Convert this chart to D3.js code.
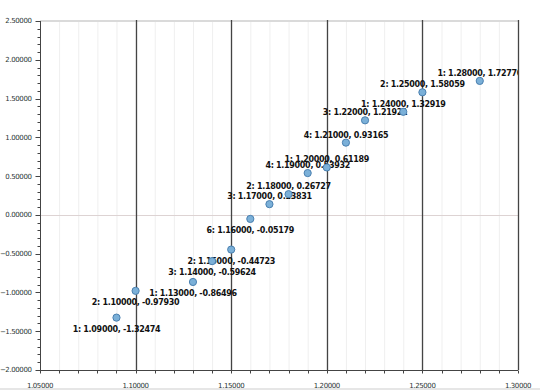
<!DOCTYPE html>
<html><head><meta charset="utf-8">
<script src="https://cdn.jsdelivr.net/npm/d3@7"></script>
<style>html,body{margin:0;padding:0;background:#fff;}svg{display:block;}</style>
</head><body>
<script>
const xValues = [1.09,1.10,1.13,1.14,1.15,1.16,1.17,1.18,1.19,1.20,1.21,1.22,1.24,1.25,1.28];
const yValues = [-1.32474,-0.97930,-0.86496,-0.59624,-0.44723,-0.05179,0.13831,0.26727,0.53932,0.61189,0.93165,1.21921,1.32919,1.58059,1.72770];
const counts  = [1,2,1,3,2,6,3,2,4,1,4,3,1,2,1];
const xTicks = [1.05,1.10,1.15,1.20,1.25,1.30];
const yTicks = [-2.0,-1.5,-1.0,-0.5,0.0,0.5,1.0,1.5,2.0,2.5];

const W=540,H=390;
const L=40,R=518,T=21,B=370;
const x=d3.scaleLinear().domain([1.05,1.30]).range([L,R]);
const y=d3.scaleLinear().domain([-2.0,2.5]).range([B,T]);
const svg=d3.select("body").append("svg").attr("width",W).attr("height",H);

svg.append("rect").attr("x",0).attr("y",388).attr("width",W).attr("height",2).attr("fill","#e6e6e6");

// minor vertical gridlines
const minorX=d3.range(1.05,1.3001,0.01).map(v=>+v.toFixed(2));
svg.append("g").selectAll("line").data(minorX).join("line")
  .attr("x1",d=>x(d)+0.5).attr("x2",d=>x(d)+0.5).attr("y1",T).attr("y2",B)
  .attr("stroke","#efefef").attr("stroke-width",1);

// top border
svg.append("line").attr("x1",L).attr("x2",R).attr("y1",T).attr("y2",T)
  .attr("stroke","#dadada").attr("stroke-width",2);

// zero line
svg.append("line").attr("x1",L).attr("x2",R).attr("y1",Math.round(y(0))+0.5).attr("y2",Math.round(y(0))+0.5)
  .attr("stroke","#ddd3d3").attr("stroke-width",1);

// major vertical lines
svg.append("g").selectAll("line").data(xTicks.slice(1)).join("line")
  .attr("x1",d=>Math.round(x(d))+0.5).attr("x2",d=>Math.round(x(d))+0.5).attr("y1",T-1).attr("y2",B)
  .attr("stroke","#444").attr("stroke-width",1.3);

// axes
const yMinor=d3.range(-2.0,2.5001,0.1).map(v=>+v.toFixed(1));
const ax=svg.append("g").attr("transform",`translate(${L+0.5},0)`);
ax.append("line").attr("y1",T).attr("y2",B).attr("stroke","#444");
ax.selectAll("line.mn").data(yMinor).join("line").attr("class","mn")
  .attr("x1",-3).attr("x2",0).attr("y1",d=>Math.round(y(d))+0.5).attr("y2",d=>Math.round(y(d))+0.5).attr("stroke","#444");
ax.selectAll("line.mj").data(yTicks).join("line").attr("class","mj")
  .attr("x1",-5).attr("x2",0).attr("y1",d=>Math.round(y(d))+0.5).attr("y2",d=>Math.round(y(d))+0.5).attr("stroke","#444");
ax.selectAll("text").data(yTicks).join("text")
  .attr("x",-9).attr("y",d=>y(d)).attr("dy","0.35em").attr("text-anchor","end")
  .attr("font-family","DejaVu Sans").attr("font-size",7).attr("letter-spacing",-0.4).attr("fill","#2a3535")
  .text(d=>d3.format(".5f")(d));

const bx=svg.append("g").attr("transform",`translate(0,${B+0.5})`);
bx.append("line").attr("x1",L).attr("x2",R).attr("stroke","#444");
bx.selectAll("line.mn").data(minorX).join("line").attr("class","mn")
  .attr("x1",d=>Math.round(x(d))+0.5).attr("x2",d=>Math.round(x(d))+0.5).attr("y1",0).attr("y2",3).attr("stroke","#444");
bx.selectAll("text").data(xTicks).join("text")
  .attr("x",d=>x(d)).attr("y",17).attr("text-anchor","middle")
  .attr("font-family","DejaVu Sans").attr("font-size",7).attr("letter-spacing",-0.4).attr("fill","#2a3535")
  .text(d=>d3.format(".5f")(d));

// data
const data=xValues.map((v,i)=>({x:v,y:yValues[i],c:counts[i]}));
svg.append("clipPath").attr("id","clip").append("rect").attr("x",L).attr("y",T).attr("width",R-L).attr("height",B-T);
svg.append("g").attr("clip-path","url(#clip)").selectAll("text").data(data).join("text")
  .attr("x",d=>x(d.x)).attr("y",d=>d.y<0?y(d.y)+14:y(d.y)-5)
  .attr("text-anchor","middle").attr("font-family","DejaVu Sans").attr("font-weight","bold")
  .attr("font-size",8).attr("letter-spacing",-0.3).attr("fill","#111")
  .text(d=>`${d.c}: ${d.x.toFixed(5)}, ${d.y.toFixed(5)}`);

svg.append("g").selectAll("circle").data(data).join("circle")
  .attr("cx",d=>x(d.x)).attr("cy",d=>y(d.y)).attr("r",3.6)
  .attr("fill","#7bb0d8").attr("stroke","#4a80b0").attr("stroke-width",1);
</script>
</body></html>
